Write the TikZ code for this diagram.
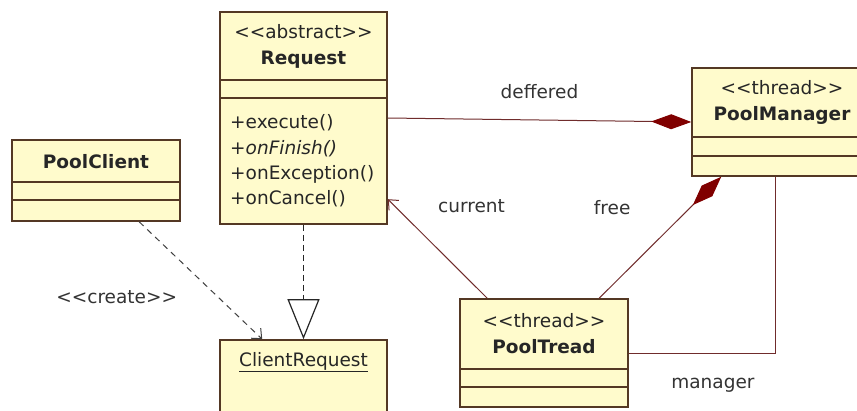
\documentclass[tikz,border=0pt]{standalone}
\usepackage{fontspec}
\newfontfamily\umlfont{DejaVu Sans}
\usetikzlibrary{arrows.meta}
\definecolor{classfill}{RGB}{255,251,204}
\definecolor{classline}{RGB}{84,56,36}
\definecolor{linkline}{RGB}{112,44,44}
\definecolor{diamondred}{RGB}{128,0,0}
\tikzstyle{classbox} = [rectangle, draw=classline, fill=classfill, line width=1.6pt, inner sep=0pt]
\tikzstyle{classtext} = [text=black!85, align=center, inner sep=0pt]
\tikzstyle{divider} = [draw=classline, line width=1.6pt]
\tikzstyle{link} = [draw=linkline, line width=1pt]
\tikzstyle{composition} = [link, -{Diamond[color=diamondred, fill=diamondred, length=40pt, width=15pt]}]
\tikzstyle{navigable} = [link, -{Straight Barb[length=8pt, width=14pt]}]
\tikzstyle{depends} = [draw=black!75, line width=1pt, dash pattern=on 6pt off 5pt, -{Straight Barb[length=8pt, width=14pt]}]
\tikzstyle{realizes} = [draw=black!85, line width=1.2pt, dash pattern=on 6pt off 4pt, -{Triangle[open, fill=white, length=40pt, width=32pt]}]
\tikzstyle{linklabel} = [text=black!80, inner sep=0pt]

\begin{document}
\begin{tikzpicture}[x=1pt, y=-1pt, font=\umlfont\fontsize{18.5}{26}\selectfont]
    \useasboundingbox (0,0) rectangle (857,410);
    \fill [white] (0,0) rectangle (857,410);

    \node (request) [classbox, minimum width=167, minimum height=212] at (303.5,118) {};
    \node (pmanager) [classbox, minimum width=180, minimum height=108] at (782,122) {};
    \node (pclient) [classbox, minimum width=168, minimum height=81] at (96,180.5) {};
    \node (ptread) [classbox, minimum width=168, minimum height=108] at (544,353) {};
    \node (crequest) [classbox, minimum width=167, minimum height=100] at (303.5,390) {};

    % compartments
    \draw [divider] ([yshift=-69pt]request.north west) -- ([yshift=-69pt]request.north east);
    \draw [divider] ([yshift=-87pt]request.north west) -- ([yshift=-87pt]request.north east);
    \draw [divider] ([yshift=-70pt]pmanager.north west) -- ([yshift=-70pt]pmanager.north east);
    \draw [divider] ([yshift=-89pt]pmanager.north west) -- ([yshift=-89pt]pmanager.north east);
    \draw [divider] ([yshift=-43pt]pclient.north west) -- ([yshift=-43pt]pclient.north east);
    \draw [divider] ([yshift=-61pt]pclient.north west) -- ([yshift=-61pt]pclient.north east);
    \draw [divider] ([yshift=-71pt]ptread.north west) -- ([yshift=-71pt]ptread.north east);
    \draw [divider] ([yshift=-89pt]ptread.north west) -- ([yshift=-89pt]ptread.north east);

    \node (requestname) [classtext] at (303.5,46) {<<abstract>>\\\textbf{Request}};
    \node (requestops) [classtext, align=left, anchor=west, font=\umlfont\fontsize{18.5}{25.3}\selectfont] at (230,161) {+execute()\\\textit{+onFinish()}\\+onException()\\+onCancel()};
    \node (pmanagername) [classtext] at (782,102) {<<thread>>\\\textbf{PoolManager}};
    \node (pclientname) [classtext] at (96,162) {\textbf{PoolClient}};
    \node (ptreadname) [classtext] at (544,334) {<<thread>>\\\textbf{PoolTread}};
    \node (crequestname) [classtext] at (303.5,362) {\underline{ClientRequest}};

    \draw [composition] (request.east) -- node[linklabel, yshift=28pt] (defferedlabel) {deffered} (pmanager.west);
    \draw [navigable] ([xshift=28pt]ptread.north west) -- node[linklabel, xshift=34pt, yshift=43pt] (currentlabel) {current} ([yshift=-188pt]request.north east);
    \draw [composition] ([xshift=140pt]ptread.north west) -- node[linklabel, xshift=-48pt, yshift=30pt] (freelabel) {free} ([xshift=30pt]pmanager.south west);
    \draw [link] (ptread.east) -| node[linklabel, pos=0.25, xshift=11pt, yshift=-32pt] (managerlabel) {manager} ([xshift=-7pt]pmanager.south);
    \draw [depends] ([xshift=128pt]pclient.south west) -- node[linklabel, xshift=-84pt, yshift=-17pt] (createlabel) {<<create>>} ([xshift=43pt]crequest.north west);
    \draw [realizes] (request.south) -- (crequest.north);
\end{tikzpicture}
\end{document}
